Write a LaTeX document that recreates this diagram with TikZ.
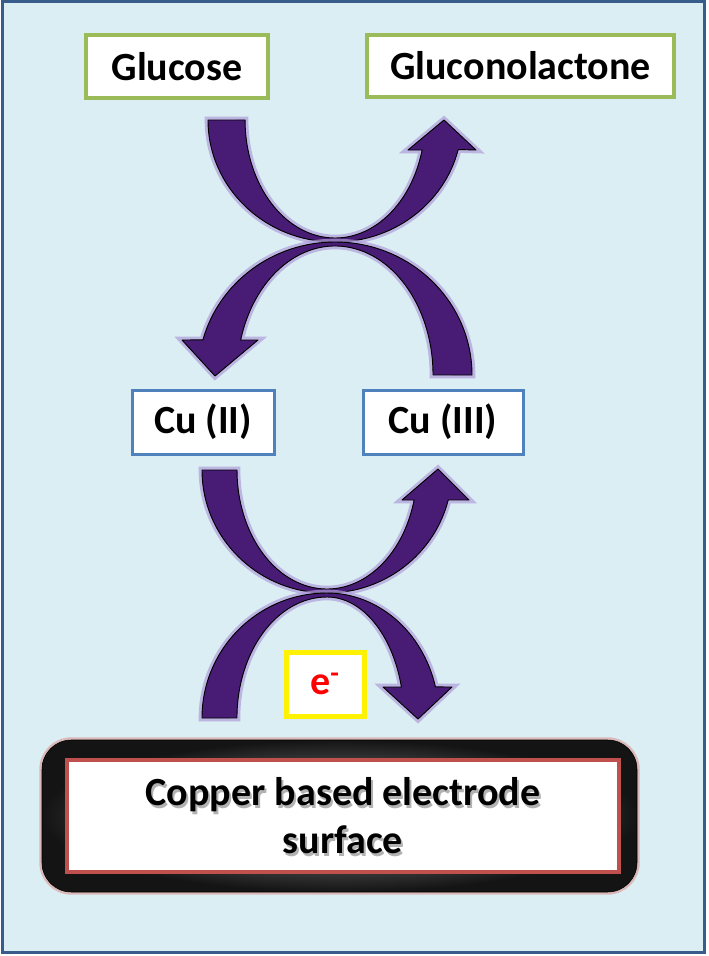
\documentclass[tikz,border=0pt]{standalone}
\usepackage{fontspec}
\setmainfont{Carlito}
\definecolor{bgblue}{RGB}{218,238,243}
\definecolor{frameblue}{RGB}{56,93,138}
\definecolor{boxgreen}{RGB}{155,187,89}
\definecolor{boxblue}{RGB}{79,129,189}
\definecolor{boxred}{RGB}{192,80,77}
\definecolor{bandpurple}{RGB}{72,28,116}
\definecolor{bandglow}{RGB}{176,156,218}
\begin{document}
\begin{tikzpicture}[x=0.75pt,y=-0.75pt]
	\tikzset{node/.style={draw, fill=white, inner sep=0pt, font=\fontsize{30}{36}\selectfont\bfseries}};
	\tikzset{band/.style={fill=bandpurple, draw=black, line width=0.7pt, line join=round,
		preaction={draw=bandglow, line width=5pt, opacity=0.7}}};
	\useasboundingbox (0,0) rectangle (709,956);
	\draw[frameblue, line width=2.25pt, fill=bgblue] (2,2) rectangle (704,952);

	\node[node, draw=boxgreen, line width=3pt, minimum width=136.5pt, minimum height=47.25pt] (glucose) at (177,66.5) {Glucose};
	\node[node, draw=boxgreen, line width=3pt, minimum width=230.25pt, minimum height=46.5pt] (lactone) at (520.5,66) {Gluconolactone};
	\node[node, draw=boxblue, line width=2.25pt, minimum width=106.5pt, minimum height=48pt] (cutwo) at (203,422) {Cu (II)};
	\node[node, draw=boxblue, line width=2.25pt, minimum width=120pt, minimum height=48pt] (cuthree) at (443,422) {Cu (III)};
	\node[node, draw=yellow, line width=3.75pt, minimum width=58.5pt, minimum height=48pt, text=red] (electron) at (325,684) {e\textsuperscript{-}};

	% electrode
	\node[draw=black, rounded corners=22pt, minimum width=446.25pt, minimum height=114pt,
		shading=radial, inner color=black!40, outer color=black!92,
		preaction={draw=boxred!60, line width=4pt, opacity=0.6}] (electrode) at (339.5,816) {};
	\node[node, draw=boxred, line width=3pt, minimum width=414pt, minimum height=84pt] (surface) at (343,816) {};
	\node[align=center, text=black!30, font=\fontsize{30}{36}\selectfont\bfseries] (shadow) at (345,818.5) {Copper based electrode\\surface};
	\node[align=center, font=\fontsize{30}{36}\selectfont\bfseries] (label) at (343,816) {Copper based electrode\\surface};

	% glucose -> gluconolactone
	\draw[band] (208,120) arc[start angle=180, end angle=14, x radius=127, y radius=122]
		-- (476,150) -- (444,120) -- (408,150) -- (422.1,150)
		arc[start angle=14.73, end angle=180, x radius=90, y radius=118] -- cycle;
	% Cu(III) -> Cu(II)
	\draw[band] (472,375) arc[start angle=0, end angle=-164.7, x radius=137, y radius=133]
		-- (182,340) -- (215,376) -- (258,340) -- (240.7,340)
		arc[start angle=-164.26, end angle=0, x radius=98, y radius=129] -- cycle;
	% Cu(II) -> Cu(III)
	\draw[band] (202,470) arc[start angle=180, end angle=14.1, x radius=125, y radius=123]
		-- (469,500) -- (438,469) -- (402,500) -- (414.1,500)
		arc[start angle=14.6, end angle=180, x radius=90, y radius=119] -- cycle;
	% electrode -> electrode
	\draw[band] (202,718) arc[start angle=180, end angle=270, x radius=125, y radius=125]
		arc[start angle=270, end angle=345.6, x radius=112, y radius=125]
		-- (452,687) -- (418,719) -- (383,687) -- (401.4,687)
		arc[start angle=345.16, end angle=270, x radius=77, y radius=121]
		arc[start angle=270, end angle=180, x radius=90, y radius=121] -- cycle;
\end{tikzpicture}
\end{document}
